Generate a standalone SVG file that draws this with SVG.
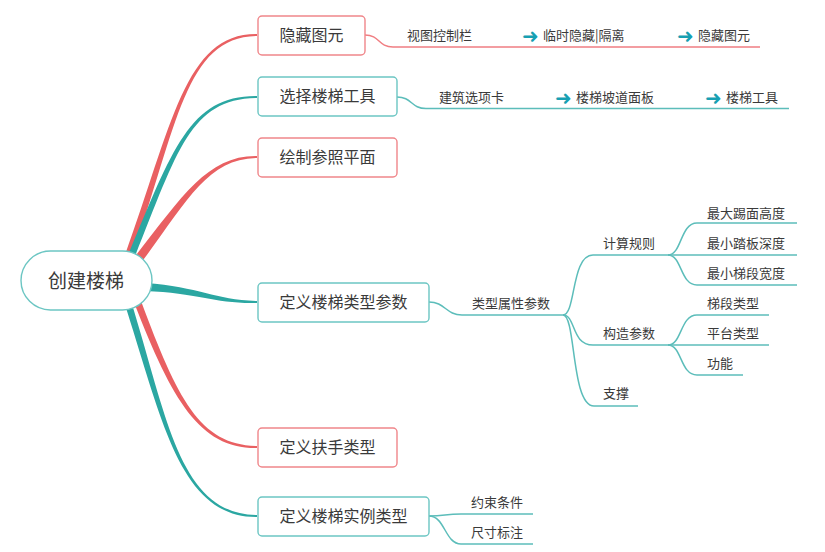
<svg xmlns="http://www.w3.org/2000/svg" width="825" height="552" viewBox="0 0 825 552">
<style>
.bg{fill:#ffffff}
.nr{fill:#ffffff;stroke:#F0868A;stroke-width:1.4}
.nt{fill:#ffffff;stroke:#6CC6C3;stroke-width:1.4}
.t16{font-family:"Noto Sans CJK SC","Noto Sans",sans-serif;font-size:16px;fill:#3a3a3a;text-anchor:middle}
.t19{font-family:"Noto Sans CJK SC","Noto Sans",sans-serif;font-size:19px;fill:#3a3a3a;text-anchor:middle}
.t13{font-family:"Noto Sans CJK SC","Noto Sans",sans-serif;font-size:13px;fill:#3a3a3a}
.arr{font-family:"DejaVu Sans",sans-serif;font-size:20px;font-weight:bold;fill:#17A0B2}
.br{fill:#E96062}
.bt{fill:#2BA7A2}
.lr{fill:none;stroke:#F07E82;stroke-width:1.5}
.lt{fill:none;stroke:#5CBDBA;stroke-width:1.5}
</style>
<rect class="bg" x="0" y="0" width="825" height="552"/>
<g id="connectors">
<path class="br" d="M131.3,258.2 C177.5,125.9 185,36.8 257,36 L257,34 C185,33.2 172.5,124.1 124.7,255.8 Z"/>
<path class="bt" d="M134.2,258.3 C177.5,151 190,98.8 257,98 L257,96 C190,95.2 172.5,149 127.8,255.7 Z"/>
<path class="br" d="M143.5,259.6 C187.5,200 208,158.8 257,158 L257,156 C208,155.2 182.5,196 136.5,254.4 Z"/>
<path class="bt" d="M144.8,291 C199.8,293 215,304 257,303 L257,301 C215,300 200.2,287 145.2,283 Z"/>
<path class="bt" d="M124.7,304.1 C162.5,420.8 180,517.8 257,517 L257,515 C180,514.2 167.5,419.2 131.3,301.9 Z"/>
<path class="br" d="M134.7,304.2 C172.5,401 200,448.8 257,448 L257,446 C200,445.2 177.5,399 141.3,301.8 Z"/>
<path class="lr" d="M365,35 C380,35 378,47 393,47 L760,47"/>
<path class="lt" d="M397,97 C412,97 411,108.5 426,108.5 L789,108.5"/>
<path class="lt" d="M429,302 C445,302 446,315 462,315 L563,315"/>
<path class="lt" d="M563,315 C576,315 571,255 593,255 L668,255"/>
<path class="lt" d="M563,315 C576,315 571,345 593,345 L668,345"/>
<path class="lt" d="M563,315 C576,315 571,406 594,406 L638,406"/>
<path class="lt" d="M668,255 C682,255 680,223 697,223 L797,223"/>
<path class="lt" d="M668,255 L797,255"/>
<path class="lt" d="M668,255 C682,255 680,285 697,285 L797,285"/>
<path class="lt" d="M668,345 C682,345 680,315 697,315 L769,315"/>
<path class="lt" d="M668,345 L769,345"/>
<path class="lt" d="M668,345 C682,345 680,375 697,375 L743,375"/>
<path class="lt" d="M429,516 C445,516 445,514 461,514 L533,514"/>
<path class="lt" d="M429,516 C445,516 445,544 461,544 L533,544"/>
</g>
<g id="root">
<rect class="nt" x="21" y="251" width="131" height="59" rx="29.5"/>
<text class="t19" x="86" y="287.5">创建楼梯</text>
</g>
<g id="n1">
<rect class="nr" x="258" y="16" width="107" height="39" rx="4"/>
<text class="t16" x="311.5" y="41">隐藏图元</text>
</g>
<g id="n1-path">
<text class="t13" x="407" y="40">视图控制栏</text>
<text x="522" y="42.5"><tspan class="arr">➜</tspan></text>
<text class="t13" x="543" y="40">临时隐藏|隔离</text>
<text x="677" y="42.5"><tspan class="arr">➜</tspan></text>
<text class="t13" x="698" y="40">隐藏图元</text>
</g>
<g id="n2">
<rect class="nt" x="258" y="77" width="139" height="39" rx="4"/>
<text class="t16" x="327.5" y="102">选择楼梯工具</text>
</g>
<g id="n2-path">
<text class="t13" x="439" y="102">建筑选项卡</text>
<text x="555" y="104.5"><tspan class="arr">➜</tspan></text>
<text class="t13" x="576" y="102">楼梯坡道面板</text>
<text x="705" y="104.5"><tspan class="arr">➜</tspan></text>
<text class="t13" x="726" y="102">楼梯工具</text>
</g>
<g id="n3">
<rect class="nr" x="258" y="138" width="139" height="39" rx="4"/>
<text class="t16" x="327.5" y="163">绘制参照平面</text>
</g>
<g id="n4">
<rect class="nt" x="258" y="283" width="171" height="39" rx="4"/>
<text class="t16" x="343.5" y="308">定义楼梯类型参数</text>
</g>
<g id="n4-children">
<text class="t13" x="472" y="308">类型属性参数</text>
<text class="t13" x="603" y="248">计算规则</text>
<text class="t13" x="603" y="338">构造参数</text>
<text class="t13" x="603" y="398">支撑</text>
<text class="t13" x="707" y="217.5">最大踢面高度</text>
<text class="t13" x="707" y="247.5">最小踏板深度</text>
<text class="t13" x="707" y="277.5">最小梯段宽度</text>
<text class="t13" x="707" y="308">梯段类型</text>
<text class="t13" x="707" y="338">平台类型</text>
<text class="t13" x="707" y="368">功能</text>
</g>
<g id="n5">
<rect class="nr" x="258" y="428" width="139" height="39" rx="4"/>
<text class="t16" x="327.5" y="453">定义扶手类型</text>
</g>
<g id="n6">
<rect class="nt" x="258" y="497" width="171" height="39" rx="4"/>
<text class="t16" x="343.5" y="522">定义楼梯实例类型</text>
</g>
<g id="n6-children">
<text class="t13" x="471" y="506.5">约束条件</text>
<text class="t13" x="471" y="536.5">尺寸标注</text>
</g>
</svg>
